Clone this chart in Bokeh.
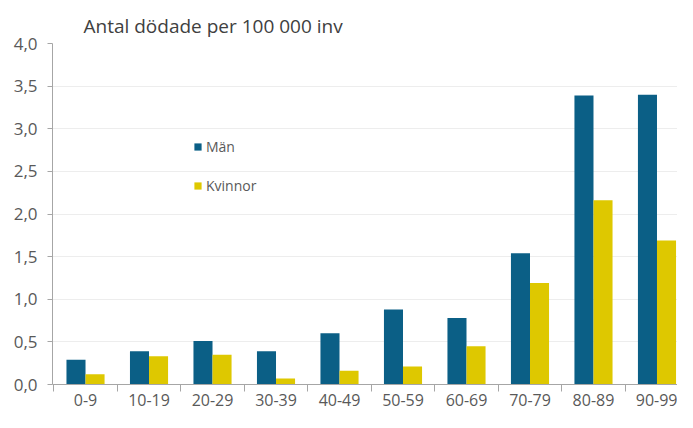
from bokeh.plotting import figure
from bokeh.models import FixedTicker, Legend, LegendItem, Range1d, Title
from bokeh.embed import file_html
from bokeh.resources import INLINE
import numpy as np

categories = ["0-9", "10-19", "20-29", "30-39", "40-49", "50-59", "60-69", "70-79", "80-89", "90-99"]
man = [0.29, 0.39, 0.51, 0.39, 0.60, 0.88, 0.78, 1.54, 3.39, 3.40]
kvinnor = [0.12, 0.33, 0.35, 0.07, 0.16, 0.21, 0.45, 1.19, 2.16, 1.69]
y_ticks = [0.0, 0.5, 1.0, 1.5, 2.0, 2.5, 3.0, 3.5, 4.0]
y_labels = ["0,0", "0,5", "1,0", "1,5", "2,0", "2,5", "3,0", "3,5", "4,0"]
title_text = "Antal dödade per 100 000 inv"

FONT = "Open Sans"
TXT = "#595959"
C_MAN = "#0b5f86"
C_KV = "#dec800"

p = figure(width=677, height=412, output_backend="svg", toolbar_location=None,
           x_range=Range1d(-0.02, 9.823), y_range=Range1d(0, 4.0),
           min_border_left=52, min_border_right=0, min_border_top=43, min_border_bottom=28)
p.outline_line_color = None
p.background_fill_color = "white"

t = Title(text=title_text, text_font=FONT, text_font_size="19px", text_color="#404040",
          text_font_style="normal", offset=31, align="left")
p.add_layout(t, "above")

idx = np.arange(len(categories))
w = 0.3
r1 = p.vbar(x=idx + 0.5 - w / 2, top=man, width=w, fill_color=C_MAN, line_color=None)
r2 = p.vbar(x=idx + 0.5 + w / 2, top=kvinnor, width=w, fill_color=C_KV, line_color=None)

# x axis
p.xaxis.ticker = FixedTicker(ticks=list(idx + 0.5), minor_ticks=list(range(len(categories) + 1)))
p.xaxis.major_label_overrides = {float(i + 0.5): c for i, c in enumerate(categories)}
p.xaxis.major_tick_out = 0
p.xaxis.major_tick_in = 0
p.xaxis.major_tick_line_color = None
p.xaxis.minor_tick_out = 7
p.xaxis.minor_tick_in = 0
p.xaxis.minor_tick_line_color = "#a6a6a6"
p.xaxis.axis_line_color = "#a6a6a6"
p.xaxis.major_label_standoff = 2
p.xaxis.major_label_text_font = FONT
p.xaxis.major_label_text_font_size = "16px"
p.xaxis.major_label_text_color = TXT

# y axis
p.yaxis.ticker = FixedTicker(ticks=y_ticks, minor_ticks=[])
p.yaxis.major_label_overrides = {t_: l for t_, l in zip(y_ticks, y_labels)}
p.yaxis.major_tick_out = 5
p.yaxis.major_tick_in = 0
p.yaxis.major_tick_line_color = "#a6a6a6"
p.yaxis.axis_line_color = "#a6a6a6"
p.yaxis.major_label_standoff = 10
p.yaxis.major_label_text_font = FONT
p.yaxis.major_label_text_font_size = "17px"
p.yaxis.major_label_text_color = TXT

p.xgrid.grid_line_color = None
p.ygrid.ticker = FixedTicker(ticks=y_ticks)
p.ygrid.grid_line_color = "#ededed"

legend = Legend(items=[LegendItem(label="Män", renderers=[r1]), LegendItem(label="Kvinnor", renderers=[r2])],
                location=(141, 189), padding=0, margin=0, spacing=19,
                glyph_width=9, glyph_height=9, label_height=20, label_standoff=4,
                label_text_font=FONT, label_text_font_size="14px", label_text_color=TXT,
                border_line_color=None, background_fill_alpha=0)
p.add_layout(legend, "center")

open("out.html", "w").write(file_html(p, INLINE))
